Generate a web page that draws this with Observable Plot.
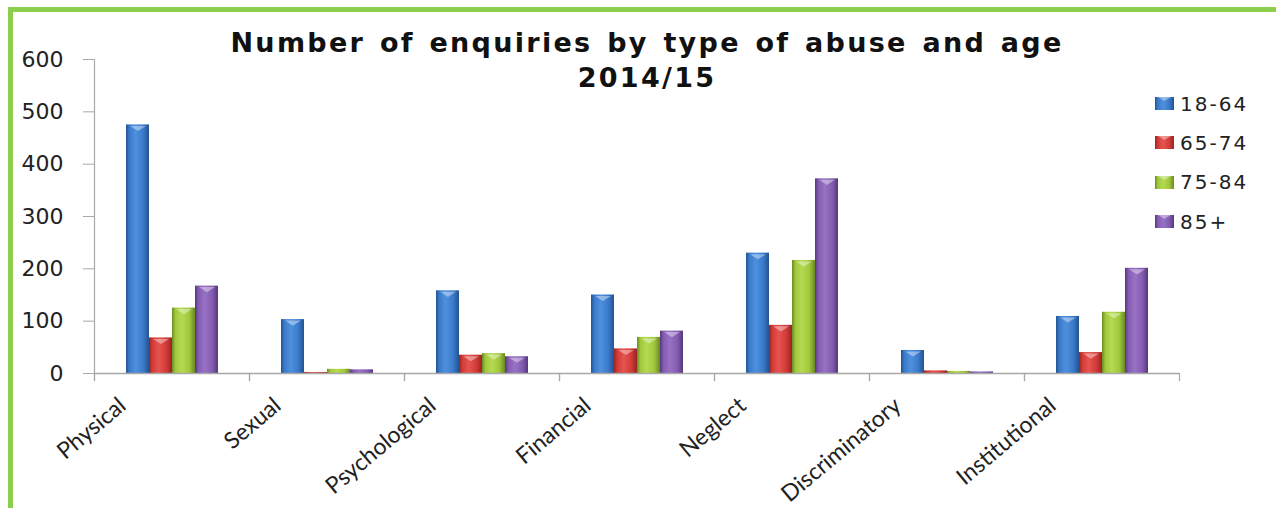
<!DOCTYPE html>
<html>
<head>
<meta charset="utf-8">
<script src="https://cdn.jsdelivr.net/npm/d3@7"></script>
<script src="https://cdn.jsdelivr.net/npm/@observablehq/plot@0.6"></script>
<style>
  html, body { margin: 0; padding: 0; background: #fff; }
  #wrap { position: relative; width: 1276px; height: 508px; overflow: hidden; background: #fff; }
  #chart { position: absolute; left: 0; top: 0; }
  .gb { position: absolute; background: #8ccf4d; }
  #title { position: absolute; left: 647px; top: 25px; transform: translateX(-50%); white-space: nowrap;
           font-family: "DejaVu Sans", sans-serif; font-weight: bold; font-size: 27px; line-height: 35px;
           letter-spacing: 2.3px; word-spacing: 3px; color: #111; text-align: center; }
  #legend { position: absolute; left: 1155px; top: 84px; font-family: "DejaVu Sans", sans-serif; font-size: 20px;
            letter-spacing: 2px; color: #222; }
  .row { display: flex; align-items: center; height: 39.3px; }
  .row svg { margin-right: 6px; }
</style>
</head>
<body>
<svg width="0" height="0" style="position:absolute">
  <defs id="defs"></defs>
</svg>
<div id="wrap">
  <div id="chart"></div>
  <div class="gb" style="left:8px; top:7px; right:0; height:5px;"></div>
  <div class="gb" style="left:8px; top:7px; bottom:0; width:5px;"></div>
  <div id="title">Number of enquiries by type of abuse and age<br>2014/15</div>
  <div id="legend"></div>
</div>
<script>
const categories = ["Physical", "Sexual", "Psychological", "Financial", "Neglect", "Discriminatory", "Institutional"];
const ages = ["18-64", "65-74", "75-84", "85+"];
const age18to64 = [475, 103, 158, 150, 230, 44, 109];
const age65to74 = [68, 2, 35, 47, 92, 5, 40];
const age75to84 = [125, 8, 38, 69, 216, 4, 117];
const age85plus = [167, 7, 32, 81, 372, 3, 201];
const yTicks = [0, 100, 200, 300, 400, 500, 600];

// gradient stops per series: edge, body, highlight
const seriesEdge = ["#24538f", "#962522", "#6a8a22", "#55387a"];
const seriesMid = ["#3a7acb", "#d33b37", "#a0c83c", "#845cb2"];
const seriesHigh = ["#4f90de", "#e5544f", "#b5da52", "#9872c4"];

const series = [age18to64, age65to74, age75to84, age85plus];
const rows = [];
categories.forEach((c, ci) => ages.forEach((a, ai) => rows.push({category: c, age: a, value: series[ai][ci]})));

// gradients
const defs = d3.select("#defs");
ages.forEach((a, i) => {
  const g = defs.append("linearGradient").attr("id", "g" + i).attr("x1", 0).attr("x2", 1).attr("y1", 0).attr("y2", 0);
  g.append("stop").attr("offset", "0%").attr("stop-color", seriesEdge[i]);
  g.append("stop").attr("offset", "15%").attr("stop-color", seriesMid[i]);
  g.append("stop").attr("offset", "42%").attr("stop-color", seriesHigh[i]);
  g.append("stop").attr("offset", "75%").attr("stop-color", seriesMid[i]);
  g.append("stop").attr("offset", "100%").attr("stop-color", seriesEdge[i]);
});

const chevron = {
  draw(context, size) {
    const w = Math.sqrt(size);
    context.moveTo(-w / 2, 0);
    context.lineTo(w / 2, 0);
    context.lineTo(0, w * 0.32);
    context.closePath();
  }
};

const axisGray = "#a8a8a8";
const plot = Plot.plot({
  width: 1276,
  height: 508,
  marginLeft: 93,
  marginRight: 97,
  marginTop: 59,
  marginBottom: 135,
  style: {fontFamily: "DejaVu Sans, sans-serif", fontSize: "22px", color: "#222", background: "transparent"},
  fx: {domain: categories, padding: 0, axis: null},
  x: {domain: ages, paddingInner: 0, paddingOuter: 1.336, axis: null},
  y: {domain: [0, 600], label: null},
  color: {domain: ages, range: ages.map((a, i) => `url(#g${i})`)},
  marks: [
    Plot.barY(rows, {fx: "category", x: "age", y: "value", fill: "age"}),
    Plot.dot(rows.filter(d => d.value > 15), {fx: "category", x: "age", y: "value", symbol: chevron, r: 9, fill: "white", fillOpacity: 0.4, stroke: "none", dy: 1}),
    Plot.ruleY([0], {stroke: axisGray, strokeWidth: 1.5}),
    Plot.frame({anchor: "left", facet: "super", stroke: axisGray, strokeWidth: 1.2, insetBottom: -7}),
    Plot.frame({anchor: "left", stroke: axisGray, strokeWidth: 1.2, insetTop: 314, insetBottom: -7}),
    Plot.frame({anchor: "right", stroke: axisGray, strokeWidth: 1.2, insetTop: 314, insetBottom: -7}),
    Plot.axisY({ticks: yTicks, tickSize: 11, tickPadding: 20, stroke: axisGray, fill: "#222", fontSize: 22, label: null, tickFormat: d3.format("d")}),
    Plot.text(categories, {fx: d => d, text: d => d, frameAnchor: "bottom", dy: 22, dx: -55, rotate: -40,
      textAnchor: "end", lineAnchor: "top", fontSize: 23, fontFamily: "Lato", fill: "#222"})
  ]
});
document.getElementById("chart").appendChild(plot);

// legend
const legend = d3.select("#legend");
ages.forEach((a, i) => {
  const row = legend.append("div").attr("class", "row");
  const s = row.append("svg").attr("width", 19).attr("height", 13);
  s.append("rect").attr("width", 19).attr("height", 13).attr("fill", `url(#g${i})`);
  s.append("path").attr("d", "M3,0H16L9.5,4Z").attr("fill", "white").attr("fill-opacity", 0.4);
  row.append("span").text(a);
});
</script>
</body>
</html>
